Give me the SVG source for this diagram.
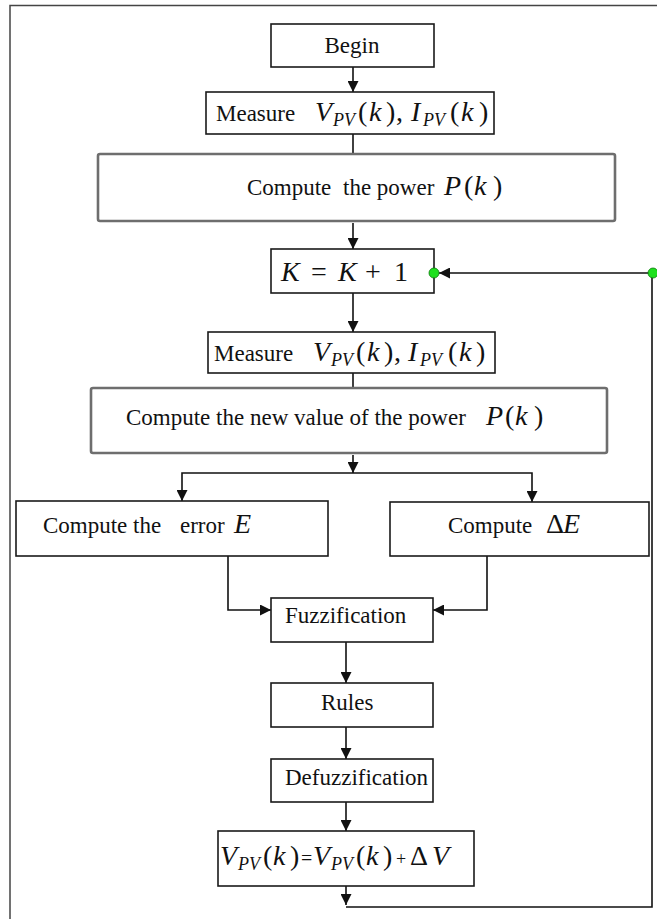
<svg xmlns="http://www.w3.org/2000/svg" width="657" height="919" viewBox="0 0 657 919">
<style>
.box{fill:#fff;stroke:#1a1a1a;stroke-width:1.6}
.gbox{fill:#fff;stroke:#6e6e6e;stroke-width:2.6}
.t{font-family:"Liberation Serif","Times New Roman",serif;font-size:23px;fill:#111}
.m{font-style:italic;font-size:28px}
.p{font-style:normal;font-size:28px}
.s{font-style:italic;font-size:18px}
.c{fill:none;stroke:#111;stroke-width:1.6}
.dot{fill:#1ee01e;stroke:#0b7a0b;stroke-width:0.8}
</style>
<defs>
<marker id="ah" viewBox="0 0 10 10" markerUnits="userSpaceOnUse" markerWidth="11" markerHeight="11" refX="10" refY="5" orient="auto">
<path d="M0,0 L10,5 L0,10 z" fill="#111"/>
</marker>
</defs>
<path d="M10,919 V5.5 H657" fill="none" stroke="#444" stroke-width="1.5"/>
<g id="connectors">
<path class="c" d="M353,67 V92" marker-end="url(#ah)"/>
<path class="c" d="M353,134 V154"/>
<path class="c" d="M353,223 V249" marker-end="url(#ah)"/>
<path class="c" d="M353,293 V332" marker-end="url(#ah)"/>
<path class="c" d="M353,373 V388"/>
<path class="c" d="M353,455 V473" marker-end="url(#ah)"/>
<path class="c" d="M353,473 H182 V501" marker-end="url(#ah)"/>
<path class="c" d="M353,473 H532 V502" marker-end="url(#ah)"/>
<path class="c" d="M228,556 V610 H271" marker-end="url(#ah)"/>
<path class="c" d="M487,556 V610 H433" marker-end="url(#ah)"/>
<path class="c" d="M346,642 V683" marker-end="url(#ah)"/>
<path class="c" d="M346,727 V759" marker-end="url(#ah)"/>
<path class="c" d="M346,802 V831" marker-end="url(#ah)"/>
<path class="c" d="M346,886 V905" marker-end="url(#ah)"/>
<path class="c" d="M346,907 H652 V273 H439" marker-end="url(#ah)"/>
</g>
<g id="begin">
<rect class="box" x="271" y="24" width="163" height="43"/>
<text class="t" x="352" y="53" text-anchor="middle">Begin</text>
</g>
<g id="measure1">
<rect class="box" x="206" y="92" width="288" height="42"/>
<text class="t" y="121"><tspan x="216">Measure</tspan><tspan class="m" x="315">V</tspan><tspan class="s" x="333" y="126">PV</tspan><tspan class="p" x="358" y="121">(</tspan><tspan class="m" x="369">k</tspan><tspan class="p" x="386">)</tspan><tspan class="p" x="396">,</tspan><tspan class="m" x="411">I</tspan><tspan class="s" x="423" y="126">PV</tspan><tspan class="p" x="450" y="121">(</tspan><tspan class="m" x="461">k</tspan><tspan class="p" x="479">)</tspan></text>
</g>
<g id="power">
<rect class="gbox" x="98" y="154" width="517" height="67" rx="2"/>
<text class="t" y="195"><tspan x="247">Compute</tspan><tspan x="343">the power</tspan><tspan class="m" x="444">P</tspan><tspan class="p" x="464">(</tspan><tspan class="m" x="474">k</tspan><tspan class="p" x="493">)</tspan></text>
</g>
<g id="increment">
<rect class="box" x="271" y="249" width="163" height="44"/>
<text class="t" y="281"><tspan class="m" x="281">K</tspan><tspan class="p" x="311">=</tspan><tspan class="m" x="338">K</tspan><tspan class="p" x="365">+</tspan><tspan class="p" x="394">1</tspan></text>
</g>
<g id="measure2">
<rect class="box" x="208" y="332" width="287" height="41"/>
<text class="t" y="361"><tspan x="214">Measure</tspan><tspan class="m" x="313">V</tspan><tspan class="s" x="331" y="366">PV</tspan><tspan class="p" x="356" y="361">(</tspan><tspan class="m" x="367">k</tspan><tspan class="p" x="384">)</tspan><tspan class="p" x="394">,</tspan><tspan class="m" x="408">I</tspan><tspan class="s" x="420" y="366">PV</tspan><tspan class="p" x="448" y="361">(</tspan><tspan class="m" x="459">k</tspan><tspan class="p" x="476">)</tspan></text>
</g>
<g id="newpower">
<rect class="gbox" x="91" y="388" width="516" height="65" rx="2"/>
<text class="t" y="425"><tspan x="126">Compute the new value of the power</tspan><tspan class="m" x="486">P</tspan><tspan class="p" x="505">(</tspan><tspan class="m" x="515">k</tspan><tspan class="p" x="534">)</tspan></text>
</g>
<g id="error">
<rect class="box" x="16" y="501" width="312" height="55"/>
<text class="t" y="533"><tspan x="43">Compute the</tspan><tspan x="180">error</tspan><tspan class="m" x="234">E</tspan></text>
</g>
<g id="deltaE">
<rect class="box" x="390" y="502" width="259" height="54"/>
<text class="t" y="533"><tspan x="448">Compute</tspan><tspan class="p" x="546">Δ</tspan><tspan class="m" x="563">E</tspan></text>
</g>
<g id="fuzzification">
<rect class="box" x="271" y="598" width="162" height="44"/>
<text class="t" x="285" y="623">Fuzzification</text>
</g>
<g id="rules">
<rect class="box" x="271" y="683" width="162" height="44"/>
<text class="t" x="321" y="710">Rules</text>
</g>
<g id="defuzzification">
<rect class="box" x="271" y="759" width="162" height="43"/>
<text class="t" x="285" y="785">Defuzzification</text>
</g>
<g id="update">
<rect class="box" x="218" y="831" width="256" height="55"/>
<text class="t" y="865"><tspan class="m" x="220">V</tspan><tspan class="s" x="238" y="870">PV</tspan><tspan class="p" x="263" y="865">(</tspan><tspan class="m" x="273">k</tspan><tspan class="p" x="290">)</tspan><tspan x="301" font-size="20">=</tspan><tspan class="m" x="313">V</tspan><tspan class="s" x="331" y="870">PV</tspan><tspan class="p" x="356" y="865">(</tspan><tspan class="m" x="366">k</tspan><tspan class="p" x="383">)</tspan><tspan x="396" font-size="18">+</tspan><tspan class="p" x="410">Δ</tspan><tspan class="m" x="432" font-size="31">V</tspan></text>
</g>
<g id="junctions">
<circle class="dot" cx="434" cy="273" r="5"/>
<circle class="dot" cx="653" cy="273" r="5"/>
</g>
</svg>
